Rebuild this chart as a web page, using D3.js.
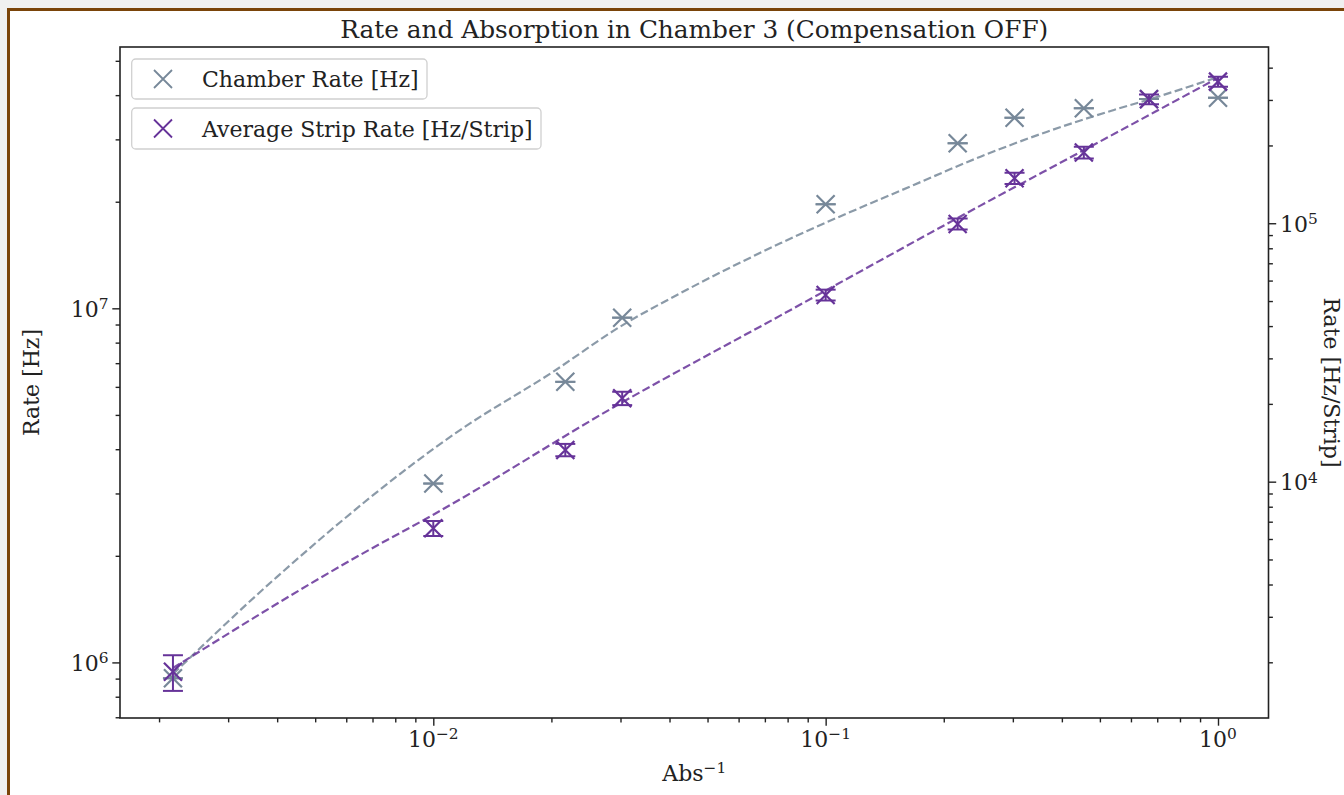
<!DOCTYPE html>
<html><head><meta charset="utf-8">
<script src="https://cdn.jsdelivr.net/npm/d3@7"></script>
<style>
html,body{margin:0;padding:0;background:#f0f0f0;overflow:hidden;}
svg{display:block;font-family:"DejaVu Serif",serif;}
</style></head><body>
<svg id="chart" width="1344" height="795"></svg>
<script>
// ---- data ----
const absInv      = [0.00217, 0.01, 0.0217, 0.0303, 0.1, 0.217, 0.303, 0.455, 0.667, 1.0];
const chamberRate = [9.02e5, 3.20e6, 6.20e6, 9.41e6, 1.967e7, 2.925e7, 3.455e7, 3.673e7, 3.90e7, 3.935e7];
const chamberErr  = [0, 0, 0, 0, 0, 0, 0, 0, 0, 0];
const stripRate   = [1840, 6603, 13270, 21030, 52790, 99380, 149300, 187700, 302000, 353200];
const stripErr    = [290, 440, 730, 1250, 2550, 4850, 7500, 9800, 13000, 16000];

const chamberFitX = [0.00217, 0.00399, 0.0117, 0.0202, 0.0299, 0.0426, 0.0766, 0.1677, 0.2481, 0.3671, 0.5429, 0.6605, 1.0];
const chamberFitY = [9.27e5, 1.742e6, 4.53e6, 6.62e6, 8.87e6, 1.103e7, 1.526e7, 2.230e7, 2.681e7, 3.154e7, 3.633e7, 3.876e7, 4.50e7];
const stripFitX   = [0.00217, 0.0065, 0.01, 0.03, 0.0766, 0.248, 0.447, 1.0];
const stripFitY   = [1900, 5200, 7450, 20100, 43900, 117000, 189000, 365000];

const xTicks      = [0.01, 0.1, 1];
const xTickExp    = ["\u22122", "\u22121", "0"];
const yLeftTicks  = [1e6, 1e7];
const yLeftExp    = ["6", "7"];
const yRightTicks = [1e4, 1e5];
const yRightExp   = ["4", "5"];

const title = "Rate and Absorption in Chamber 3 (Compensation OFF)";
const legendLabels = ["Chamber Rate [Hz]", "Average Strip Rate [Hz/Strip]"];

// ---- layout ----
const L = 120, R = 1268.5, T = 47, B = 718;
const FS = 22;
const grayC = "#778899", purpleC = "#663399";

const svg = d3.select("#chart");
// frame
svg.append("rect").attr("x", 0).attr("y", 0).attr("width", 1344).attr("height", 795).attr("fill", "#f0f0f0");
svg.append("rect").attr("x", 10).attr("y", 11).attr("width", 1340).attr("height", 790).attr("fill", "#ffffff");
svg.append("line").attr("x1", 8.5).attr("x2", 8.5).attr("y1", 8).attr("y2", 800).attr("stroke", "#7a4409").attr("stroke-width", 3);
svg.append("line").attr("x1", 7).attr("x2", 1344).attr("y1", 9.5).attr("y2", 9.5).attr("stroke", "#7a4409").attr("stroke-width", 3);

const x = d3.scaleLog().domain([Math.pow(10, -2.7985), Math.pow(10, 0.1287)]).range([L, R]);
const yL = d3.scaleLog().domain([Math.pow(10, 5.843), Math.pow(10, 7.738)]).range([B, T]);
const yR = d3.scaleLog().domain([Math.pow(10, 3.0855), Math.pow(10, 5.682)]).range([B, T]);

function minors(scale) {
  const [a, b] = scale.domain();
  const out = [];
  for (let e = Math.floor(Math.log10(a)); e <= Math.ceil(Math.log10(b)); e++) {
    for (let m = 2; m <= 9; m++) {
      const v = m * Math.pow(10, e);
      if (v >= a && v <= b) out.push(v);
    }
  }
  return out;
}

function styleAxis(g) {
  g.select(".domain").remove();
  g.selectAll(".tick line").attr("stroke", "#222").attr("stroke-width", 1.4);
}

// minor ticks
svg.append("g").attr("transform", `translate(0,${B})`)
  .call(d3.axisBottom(x).tickValues(minors(x)).tickSize(4.4).tickFormat(""))
  .call(styleAxis);
svg.append("g").attr("transform", `translate(${L},0)`)
  .call(d3.axisLeft(yL).tickValues(minors(yL)).tickSize(4.4).tickFormat(""))
  .call(styleAxis);
svg.append("g").attr("transform", `translate(${R},0)`)
  .call(d3.axisRight(yR).tickValues(minors(yR)).tickSize(4.4).tickFormat(""))
  .call(styleAxis);

// major ticks
svg.append("g").attr("transform", `translate(0,${B})`)
  .call(d3.axisBottom(x).tickValues(xTicks).tickSize(7.7).tickFormat(""))
  .call(styleAxis);
svg.append("g").attr("transform", `translate(${L},0)`)
  .call(d3.axisLeft(yL).tickValues(yLeftTicks).tickSize(7.7).tickFormat(""))
  .call(styleAxis);
svg.append("g").attr("transform", `translate(${R},0)`)
  .call(d3.axisRight(yR).tickValues(yRightTicks).tickSize(7.7).tickFormat(""))
  .call(styleAxis);

function powLabel(sel, exp) {
  sel.append("tspan").text("10");
  sel.append("tspan").attr("font-size", FS * 0.7).attr("dy", -FS * 0.36).text(exp);
}

xTicks.forEach((v, i) => {
  const t = svg.append("text").attr("x", x(v)).attr("y", 747).attr("text-anchor", "middle")
    .attr("font-size", FS).attr("fill", "#222");
  powLabel(t, xTickExp[i]);
});
yLeftTicks.forEach((v, i) => {
  const t = svg.append("text").attr("x", 108.5).attr("y", yL(v) + 8.4).attr("text-anchor", "end")
    .attr("font-size", FS).attr("fill", "#222");
  powLabel(t, yLeftExp[i]);
});
yRightTicks.forEach((v, i) => {
  const t = svg.append("text").attr("x", 1280).attr("y", yR(v) + 8.8).attr("text-anchor", "start")
    .attr("font-size", FS).attr("fill", "#222");
  powLabel(t, yRightExp[i]);
});

// spines
svg.append("rect").attr("x", L).attr("y", T).attr("width", R - L).attr("height", B - T)
  .attr("fill", "none").attr("stroke", "#222").attr("stroke-width", 1.6);

// title & axis labels
svg.append("text").attr("x", (L + R) / 2).attr("y", 38.3).attr("text-anchor", "middle")
  .attr("font-size", 24.8).attr("fill", "#222").text(title);
const xl = svg.append("text").attr("x", (L + R) / 2).attr("y", 781).attr("text-anchor", "middle")
  .attr("font-size", FS).attr("fill", "#222");
xl.append("tspan").text("Abs");
xl.append("tspan").attr("font-size", FS * 0.7).attr("dy", -FS * 0.36).text("\u22121");
svg.append("text").attr("transform", `translate(39,${(T + B) / 2}) rotate(-90)`).attr("text-anchor", "middle")
  .attr("font-size", FS).attr("fill", "#222").text("Rate [Hz]");
svg.append("text").attr("transform", `translate(1324,${(T + B) / 2}) rotate(90)`).attr("text-anchor", "middle")
  .attr("font-size", FS).attr("fill", "#222").text("Rate [Hz/Strip]");

// plotting helpers
const clipId = "plotclip";
svg.append("clipPath").attr("id", clipId).append("rect").attr("x", L).attr("y", T).attr("width", R - L).attr("height", B - T);
const plot = svg.append("g").attr("clip-path", `url(#${clipId})`);

function drawSeries(xs, ys, errs, fx, fy, yScale, color) {
  const line = d3.line().x(d => x(d[0])).y(d => yScale(d[1])).curve(d3.curveMonotoneX);
  plot.append("path").datum(fx.map((v, i) => [v, fy[i]])).attr("d", line)
    .attr("fill", "none").attr("stroke", color).attr("stroke-opacity", 0.85)
    .attr("stroke-width", 2.2).attr("stroke-dasharray", "8.1,3.5");
  const g = plot.append("g").attr("stroke", color).attr("stroke-width", 2).attr("fill", "none");
  xs.forEach((xv, i) => {
    const cx = x(xv), cy = yScale(ys[i]);
    const y1 = yScale(ys[i] + errs[i]), y2 = yScale(Math.max(ys[i] - errs[i], 1e-9));
    g.append("line").attr("x1", cx).attr("x2", cx).attr("y1", y1).attr("y2", y2);
    g.append("line").attr("x1", cx - 10).attr("x2", cx + 10).attr("y1", y1).attr("y2", y1);
    g.append("line").attr("x1", cx - 10).attr("x2", cx + 10).attr("y1", y2).attr("y2", y2);
    g.append("path").attr("d", `M${cx - 9},${cy - 9}L${cx + 9},${cy + 9}M${cx - 9},${cy + 9}L${cx + 9},${cy - 9}`)
      .attr("stroke-width", 2.2);
  });
}
drawSeries(absInv, chamberRate, chamberErr, chamberFitX, chamberFitY, yL, grayC);
drawSeries(absInv, stripRate, stripErr, stripFitX, stripFitY, yR, purpleC);

// legends
const legendBoxes = [
  {x: 131.7, y: 59, w: 295.3, h: 40, color: grayC},
  {x: 131.7, y: 108, w: 409.3, h: 41, color: purpleC}
];
legendBoxes.forEach((b, i) => {
  svg.append("rect").attr("x", b.x).attr("y", b.y).attr("width", b.w).attr("height", b.h)
    .attr("rx", 4).attr("fill", "#fff").attr("fill-opacity", 0.8).attr("stroke", "#d0d0d0").attr("stroke-width", 1.3);
  const cy = b.y + b.h / 2, cx = 163;
  svg.append("path").attr("d", `M${cx - 9},${cy - 9}L${cx + 9},${cy + 9}M${cx - 9},${cy + 9}L${cx + 9},${cy - 9}`)
    .attr("stroke", b.color).attr("stroke-width", 1.8).attr("fill", "none");
  svg.append("text").attr("x", 202).attr("y", cy + 8.3).attr("font-size", FS).attr("fill", "#222").text(legendLabels[i]);
});
</script>
</body></html>
